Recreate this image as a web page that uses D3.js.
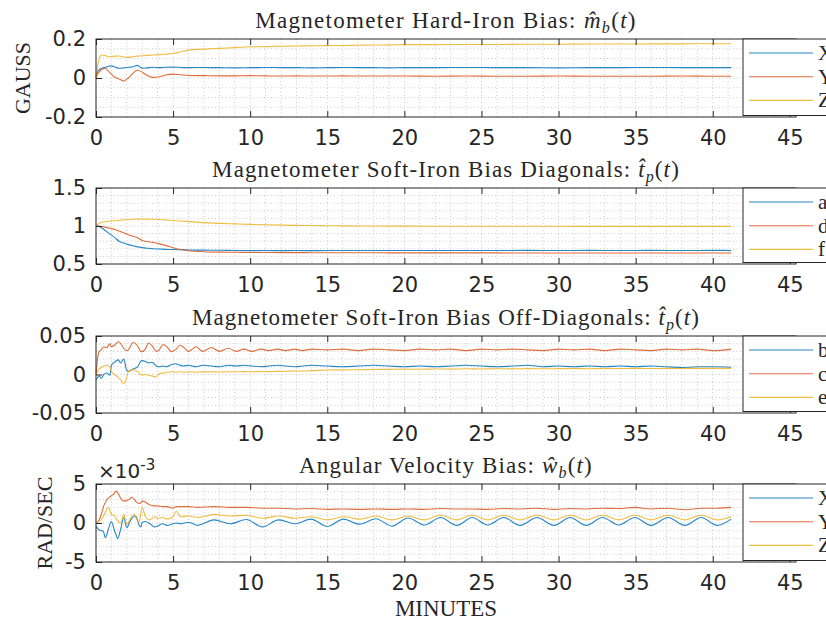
<!DOCTYPE html>
<html>
<head>
<meta charset="utf-8">
<script src="https://cdn.jsdelivr.net/npm/d3@7"></script>
<style>
body { margin: 0; background: #fff; }
text { fill: #262626; }
.serif { font-family: "Liberation Serif", "DejaVu Serif", serif; }
.sans { font-family: "DejaVu Sans", sans-serif; }
</style>
</head>
<body>
<script>
// time axis (minutes) for the magnetometer panels
const tMag = [0, 0.1, 0.25, 0.4, 0.6, 0.8, 1.0, 1.2, 1.5, 1.8, 2.1, 2.4, 2.7, 3.0, 3.3, 3.7, 4.1, 4.5, 5, 5.5,
  6, 7, 8, 9, 10, 11, 12, 13, 14, 15, 16, 17, 18, 19, 20, 22, 24, 26, 28, 30, 32, 34, 36, 38, 40, 41.2]

// hard-iron bias, GAUSS
const hardX = [0, 0.03, 0.045, 0.05, 0.055, 0.06, 0.062, 0.058, 0.05, 0.052, 0.055, 0.058, 0.065, 0.05, 0.052,
  0.055, 0.053, 0.055, 0.056, 0.054, 0.053, 0.054, 0.053, 0.052, 0.053, 0.054, 0.053, 0.053, 0.052, 0.053,
  0.054, 0.053, 0.053, 0.052, 0.053, 0.053, 0.054, 0.053, 0.053, 0.052, 0.053, 0.053, 0.054, 0.053, 0.053, 0.053]
const hardY = [0, 0.02, 0.035, 0.045, 0.05, 0.035, 0.02, 0.005, -0.005, -0.015, 0.0, 0.025, 0.04, 0.03, 0.014,
  0.003, 0.006, 0.015, 0.02, 0.017, 0.013, 0.012, 0.011, 0.011, 0.012, 0.011, 0.010, 0.011, 0.010, 0.010,
  0.011, 0.010, 0.010, 0.010, 0.010, 0.009, 0.010, 0.009, 0.009, 0.010, 0.009, 0.009, 0.009, 0.010, 0.009, 0.009]
const hardZ = [0, 0.06, 0.11, 0.118, 0.115, 0.109, 0.11, 0.112, 0.113, 0.108, 0.106, 0.11, 0.112, 0.114, 0.116,
  0.118, 0.12, 0.122, 0.126, 0.135, 0.143, 0.148, 0.152, 0.156, 0.16, 0.161, 0.163, 0.164, 0.165, 0.166,
  0.167, 0.168, 0.169, 0.17, 0.171, 0.171, 0.172, 0.172, 0.173, 0.173, 0.174, 0.174, 0.175, 0.175, 0.176, 0.176]

// soft-iron diagonals
const softA = [1.0, 1.0, 0.99, 0.97, 0.94, 0.91, 0.88, 0.85, 0.80, 0.775, 0.755, 0.74, 0.725, 0.715, 0.708,
  0.70, 0.697, 0.693, 0.69, 0.687, 0.685, 0.682, 0.68, 0.678, 0.676, 0.677, 0.676, 0.677, 0.676, 0.677,
  0.678, 0.677, 0.678, 0.677, 0.678, 0.678, 0.677, 0.678, 0.679, 0.678, 0.679, 0.678, 0.679, 0.678, 0.679, 0.678]
const softD = [1.0, 1.0, 0.995, 0.99, 0.985, 0.975, 0.965, 0.955, 0.935, 0.91, 0.885, 0.865, 0.845, 0.81, 0.795,
  0.785, 0.765, 0.745, 0.715, 0.69, 0.675, 0.662, 0.656, 0.654, 0.652, 0.651, 0.650, 0.650, 0.649, 0.649,
  0.648, 0.648, 0.648, 0.647, 0.647, 0.646, 0.646, 0.646, 0.645, 0.645, 0.645, 0.645, 0.645, 0.645, 0.645, 0.645]
const softF = [1.0, 1.02, 1.04, 1.05, 1.057, 1.062, 1.066, 1.07, 1.075, 1.08, 1.085, 1.088, 1.09, 1.092, 1.09,
  1.088, 1.085, 1.08, 1.072, 1.065, 1.058, 1.045, 1.035, 1.028, 1.022, 1.016, 1.012, 1.008, 1.006, 1.004,
  1.002, 1.0, 1.0, 0.999, 0.998, 0.997, 0.997, 0.996, 0.996, 0.996, 0.995, 0.995, 0.995, 0.995, 0.995, 0.995]

// soft-iron off-diagonals
const tOff = [0, 0.1, 0.2, 0.35, 0.5, 0.7, 0.9, 1.0, 1.2, 1.45, 1.6, 1.8, 1.98, 2.1, 2.4, 2.7, 2.95, 3.2, 3.4, 3.65,
  3.9, 4.1, 4.35, 4.6, 4.9, 5.15, 5.44, 5.7, 6.0, 6.25, 6.5, 6.9, 7.5, 8.0, 8.6, 9.1, 9.6, 10.1, 10.7, 11.2,
  11.8, 12.3, 12.9, 13.4, 14, 15, 16, 17, 18, 19, 20, 21, 22, 23, 24, 25, 26, 27, 28, 29,
  30, 31, 32, 33, 34, 35, 36, 37, 38, 39, 40, 41.2]
const offB = [-0.007, -0.004, -0.002, -0.005, 0.0, 0.002, -0.001, 0.012, 0.016, 0.019, 0.015, 0.02, 0.006, 0.004, 0.007,
  0.01, 0.018, 0.017, 0.015, 0.016, 0.011, 0.010, 0.011, 0.010, 0.013, 0.014, 0.012, 0.011, 0.012, 0.011,
  0.010, 0.012, 0.011, 0.010, 0.012, 0.011, 0.012, 0.011, 0.010, 0.011, 0.012, 0.011, 0.010, 0.011, 0.012,
  0.011, 0.010, 0.011, 0.012, 0.011, 0.010, 0.011, 0.010, 0.011, 0.012, 0.011, 0.010, 0.011, 0.012, 0.010,
  0.011, 0.010, 0.011, 0.010, 0.011, 0.010, 0.011, 0.010, 0.009, 0.010, 0.010, 0.0095]
const offC = [0, 0.02, 0.03, 0.032, 0.036, 0.035, 0.04, 0.036, 0.038, 0.0425, 0.04, 0.034, 0.031, 0.032, 0.0415,
  0.037, 0.0295, 0.033, 0.041, 0.037, 0.030, 0.032, 0.039, 0.036, 0.0295, 0.032, 0.038, 0.035, 0.030, 0.033,
  0.036, 0.030, 0.035, 0.030, 0.034, 0.030, 0.033, 0.030, 0.033, 0.031, 0.033, 0.031, 0.033, 0.031, 0.033,
  0.032, 0.033, 0.031, 0.033, 0.032, 0.031, 0.033, 0.032, 0.033, 0.031, 0.033, 0.032, 0.033, 0.032, 0.031,
  0.033, 0.032, 0.033, 0.031, 0.033, 0.032, 0.031, 0.033, 0.032, 0.033, 0.031, 0.033]
const offE = [0, 0.004, 0.007, 0.009, 0.011, 0.012, 0.01, 0.004, 0.0, -0.004, -0.007, -0.012, -0.005, 0.004, 0.006,
  0.004, -0.0005, 0.0, -0.001, -0.002, -0.003, 0.001, 0.002, 0.003, 0.0035, 0.003, 0.0035, 0.003, 0.0032, 0.0035,
  0.003, 0.0034, 0.0036, 0.0033, 0.0036, 0.0035, 0.0037, 0.0036, 0.0038, 0.0037, 0.004, 0.0042, 0.0045, 0.0046, 0.005,
  0.0058, 0.006, 0.0062, 0.0065, 0.0067, 0.007, 0.0068, 0.0072, 0.007, 0.0074, 0.0072, 0.0075, 0.0073, 0.0076, 0.0074,
  0.0076, 0.0078, 0.0075, 0.0078, 0.0077, 0.0079, 0.0077, 0.008, 0.0078, 0.008, 0.0079, 0.008]

// angular velocity bias, in units of 1e-3 RAD/SEC
const tGyro = [0, 0.2, 0.4, 0.5, 0.6, 0.7, 0.8, 1.0, 1.2, 1.3, 1.4, 1.6, 1.8, 2.0, 2.2, 2.3, 2.5, 2.6, 2.8, 2.9,
  3.0, 3.2, 3.5, 3.8, 4.0, 4.3, 4.6, 5.0, 5.2, 5.5, 6.0,
  6.6, 7.65, 8.7, 9.75, 10.8, 11.85, 12.9, 13.95, 15.0, 16.05, 17.1, 18.15, 19.2, 20.25, 21.3, 22.35, 23.4, 24.4,
  25.4, 26.45, 27.5, 28.6, 29.7, 30.75, 31.8, 32.85, 33.9, 34.95, 36.0, 37.1, 38.2, 39.25, 40.3, 41.2]
const gyroX = [-0.4, -0.9, -1.0, -1.2, -1.9, -1.5, -0.8, 0.2, -1.0, -1.5, -2.0, -0.8, 0.7, -0.6, 0.2,
  0.5, 0.9, 0.8, -0.3, -0.5, 0.1, 0.2, -0.1, -0.5, -0.4, -0.1, -0.3, -0.1, 0.0, -0.1, 0.1,
  -0.3, 0.4, -0.1, 0.45, -0.5, 0.4, -0.1, 0.5, -0.45, 0.5, -0.15, 0.55, -0.4, 0.65, -0.25, 0.7, -0.3, 0.7,
  -0.25, 0.7, -0.3, 0.7, -0.3, 0.7, -0.3, 0.7, -0.25, 0.7, -0.3, 0.7, -0.3, 0.7, -0.3, 0.5]
const gyroY = [-0.1, 0.4, 1.5, 2.2, 2.6, 3.0, 3.2, 3.5, 3.8, 4.1, 3.9, 3.2, 2.8, 2.9, 3.1,
  3.3, 3.0, 2.7, 2.5, 2.6, 2.8, 2.7, 2.3, 2.2, 2.2, 2.1, 2.1, 1.9, 2.1, 2.1, 2.1,
  2.0, 2.1, 2.0, 2.0, 1.9, 1.9, 1.8, 1.85, 1.75, 1.8, 1.75, 1.8, 1.75, 1.8, 1.75, 1.85, 1.8, 1.8,
  1.75, 1.85, 1.8, 1.9, 1.75, 1.85, 1.8, 1.9, 1.85, 2.0, 1.8, 1.9, 1.7, 1.9, 1.9, 2.0]
const gyroZ = [-0.1, 0.2, 0.6, 1.0, 1.3, 1.8, 2.0, 1.1, 0.9, 0.6, 0.3, 0.0, 1.1, -0.2, 0.5,
  0.8, 1.1, 0.6, 0.1, 1.2, 2.0, 0.8, 0.4, 0.8, 0.6, 0.7, 0.5, 0.8, 1.5, 0.8, 0.9,
  0.7, 1.1, 0.9, 1.0, 0.6, 0.9, 0.6, 0.8, 0.4, 0.8, 0.5, 0.9, 0.4, 0.9, 0.4, 1.0, 0.4, 1.0,
  0.4, 1.0, 0.4, 1.0, 0.4, 1.0, 0.4, 1.0, 0.4, 1.0, 0.4, 1.0, 0.4, 1.0, 0.4, 0.8]

const xTicks = [0, 5, 10, 15, 20, 25, 30, 35, 40, 45]
const colors = ['#0072BD', '#D95319', '#EDB120']

const panels = [
  { top: 39, bottom: 117, domain: [-0.2, 0.2], ticks: [-0.2, 0, 0.2], minor: 0.05,
    t: tMag, series: [hardX, hardY, hardZ], labels: ['X', 'Y', 'Z'], ylabel: 'GAUSS', ylabelX: 22,
    titleWidth: 383,
    title: [['Magnetometer Hard-Iron Bias: '], ['m\u0302', 'i'], ['b', 'sub'], ['('], ['t', 'i'], [')']] },
  { top: 188, bottom: 264, domain: [0.5, 1.5], ticks: [0.5, 1, 1.5], minor: 0.1,
    t: tMag, series: [softA, softD, softF], labels: ['a', 'd', 'f'],
    titleWidth: 469,
    title: [['Magnetometer Soft-Iron Bias Diagonals: '], ['t\u0302', 'i'], ['p', 'sub'], ['('], ['t', 'i'], [')']] },
  { top: 336, bottom: 413, domain: [-0.05, 0.05], ticks: [-0.05, 0, 0.05], minor: 0.01,
    t: tOff, series: [offB, offC, offE], labels: ['b', 'c', 'e'],
    titleWidth: 509,
    title: [['Magnetometer Soft-Iron Bias Off-Diagonals: '], ['t\u0302', 'i'], ['p', 'sub'], ['('], ['t', 'i'], [')']] },
  { top: 484, bottom: 562, domain: [-5, 5], ticks: [-5, 0, 5], minor: 1,
    t: tGyro, series: [gyroX, gyroY, gyroZ], labels: ['X', 'Y', 'Z'], ylabel: 'RAD/SEC', ylabelX: 44, exponent: '-3',
    titleWidth: 295,
    title: [['Angular Velocity Bias: '], ['w\u0302', 'i'], ['b', 'sub'], ['('], ['t', 'i'], [')']] }
]

const W = 826, H = 622
const left = 96, right = 796, legendX = 743

const svg = d3.select('body').append('svg')
  .attr('width', W)
  .attr('height', H)

const x = d3.scaleLinear().domain([0, 45.4]).range([left, right])

panels.forEach(p => {
  const y = d3.scaleLinear().domain(p.domain).range([p.bottom, p.top])
  const g = svg.append('g')

  // dotted grid, minor every minute and every p.minor
  g.selectAll('.gx').data(d3.range(1, 46)).enter().append('line')
    .attr('x1', d => x(d)).attr('x2', d => x(d))
    .attr('y1', p.top).attr('y2', p.bottom)
    .attr('stroke', '#bdbdbd').attr('stroke-width', 0.8).attr('stroke-dasharray', '1,2.5')
  const nMinor = Math.round((p.domain[1] - p.domain[0]) / p.minor)
  g.selectAll('.gy').data(d3.range(1, nMinor)).enter().append('line')
    .attr('x1', left).attr('x2', right)
    .attr('y1', d => y(p.domain[0] + d * p.minor)).attr('y2', d => y(p.domain[0] + d * p.minor))
    .attr('stroke', '#bdbdbd').attr('stroke-width', 0.8).attr('stroke-dasharray', '1,2.5')

  // series
  const line = d3.line()
    .curve(d3.curveMonotoneX)
    .x((d, i) => x(p.t[i]))
    .y(d => y(d))
  p.series.forEach((s, i) => {
    g.append('path').datum(s)
      .attr('d', line)
      .attr('fill', 'none')
      .attr('stroke', colors[i])
      .attr('stroke-width', 1.1)
      .attr('stroke-opacity', 0.85)
  })

  // axes with inward ticks
  const xb = g.append('g').attr('transform', `translate(0,${p.bottom})`)
    .call(d3.axisBottom(x).tickValues(xTicks).tickSize(-6).tickPadding(13).tickFormat(d => String(d)))
  const xt = g.append('g').attr('transform', `translate(0,${p.top})`)
    .call(d3.axisTop(x).tickValues(xTicks).tickSize(-6).tickFormat(''))
  const yl = g.append('g').attr('transform', `translate(${left},0)`)
    .call(d3.axisLeft(y).tickValues(p.ticks).tickSize(-6).tickPadding(10).tickFormat(d => String(d)))
  ;[xb, xt, yl].forEach(a => {
    a.select('.domain').remove()
    a.selectAll('line').attr('stroke', '#262626')
    a.selectAll('text').attr('class', 'sans').style('font-size', '21px').attr('fill', '#262626')
  })

  g.append('rect')
    .attr('x', left).attr('y', p.top)
    .attr('width', right - left).attr('height', p.bottom - p.top)
    .attr('fill', 'none').attr('stroke', '#262626').attr('stroke-width', 1)

  // legend box, running off the right edge
  const lg = g.append('g')
  lg.append('rect')
    .attr('x', legendX).attr('y', p.top)
    .attr('width', 120).attr('height', p.bottom - p.top - 1.5)
    .attr('fill', '#fff').attr('stroke', '#262626').attr('stroke-width', 1)
  p.labels.forEach((lab, i) => {
    const ly = p.top + 14 + i * 23.7
    lg.append('line')
      .attr('x1', 749).attr('x2', 813).attr('y1', ly).attr('y2', ly)
      .attr('stroke', colors[i]).attr('stroke-width', 1.1).attr('stroke-opacity', 0.85)
    lg.append('text').attr('class', 'serif')
      .attr('x', 818).attr('y', ly + 7)
      .style('font-size', '21px')
      .text(lab)
  })

  // title, stretched to the reference width
  const title = g.append('text').attr('class', 'serif')
    .attr('x', (left + right) / 2).attr('y', p.top - 11.5)
    .attr('text-anchor', 'middle')
    .style('font-size', '23px')
  let shifted = false
  p.title.forEach(([txt, kind]) => {
    const ts = title.append('tspan').text(txt)
    if (kind === 'i' || kind === 'sub') ts.style('font-style', 'italic')
    if (kind === 'sub') {
      ts.style('font-size', '16px').attr('dy', 5)
      shifted = true
    } else if (shifted) {
      ts.attr('dy', -5)
      shifted = false
    }
  })
  const w0 = title.node().getComputedTextLength()
  const nChars = title.text().length
  title.style('letter-spacing', ((p.titleWidth - w0) / nChars) + 'px')

  if (p.ylabel) {
    const cy = (p.top + p.bottom) / 2
    g.append('text').attr('class', 'serif')
      .attr('transform', `translate(${p.ylabelX + 8},${cy}) rotate(-90)`)
      .attr('text-anchor', 'middle')
      .style('font-size', '22px')
      .text(p.ylabel)
  }

  if (p.exponent) {
    const ex = g.append('text').attr('class', 'sans')
      .attr('x', 98).attr('y', p.top - 6)
      .style('font-size', '20px')
      .text('\u00d710')
    ex.append('tspan').attr('dy', -8).style('font-size', '15px').text(p.exponent)
  }
})

svg.append('text').attr('class', 'serif')
  .attr('x', (left + right) / 2).attr('y', 616)
  .attr('text-anchor', 'middle')
  .style('font-size', '23px')
  .text('MINUTES')
</script>
</body>
</html>
